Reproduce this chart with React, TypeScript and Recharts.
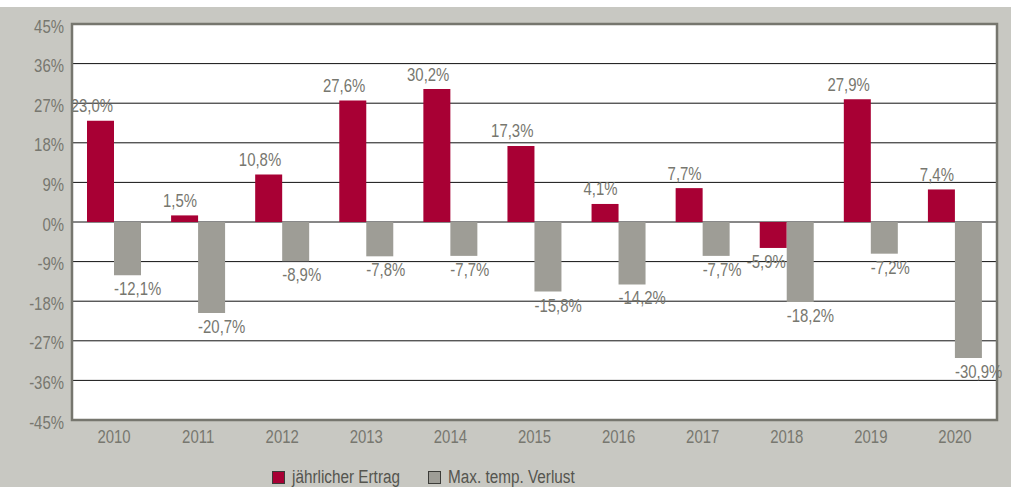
import React from 'react';
import { BarChart, Bar, XAxis, YAxis, CartesianGrid, ReferenceArea, LabelList, Legend } from 'recharts';

const years = ['2010', '2011', '2012', '2013', '2014', '2015', '2016', '2017', '2018', '2019', '2020'];
const ertrag = [23.0, 1.5, 10.8, 27.6, 30.2, 17.3, 4.1, 7.7, -5.9, 27.9, 7.4];
const verlust = [-12.1, -20.7, -8.9, -7.8, -7.7, -15.8, -14.2, -7.7, -18.2, -7.2, -30.9];
const yTicks = [-45, -36, -27, -18, -9, 0, 9, 18, 27, 36, 45];
const seriesNames = ['jährlicher Ertrag', 'Max. temp. Verlust'];

const data = years.map((y, i) => ({ year: y, ertrag: ertrag[i], verlust: verlust[i] }));

const FONT = '"Liberation Sans", Arial, sans-serif';
const RED = '#a80034';
const GRAY = '#9e9d96';
const TXT = '#77776f';
const BG = '#c8c8c2';
const BORDER = '#76766e';
const SX = 0.83;

const fmt = (v: number) => v.toFixed(1).replace('.', ',') + '%';

const NText = ({ x, y, anchor, children }: any) => (
  <text transform={`translate(${x},${y}) scale(${SX},1)`} textAnchor={anchor} fill={TXT} fontSize={18} fontFamily={FONT}>
    {children}
  </text>
);

const makeLabel = (side: 'left' | 'right') => (props: any) => {
  const { x, y, width, height, value } = props;
  const top = Math.min(y, y + height);
  const bottom = Math.max(y, y + height);
  const ty = value >= 0 ? top - 8.5 : bottom + 20;
  const tx = side === 'left' ? x + width - 1 : x;
  return <NText x={tx} y={ty} anchor={side === 'left' ? 'end' : 'start'}>{fmt(value)}</NText>;
};

const YTick = (props: any) => {
  const { y, payload } = props;
  return <NText x={64} y={y + 8.5} anchor="end">{payload.value + '%'}</NText>;
};

const XTick = (props: any) => {
  const { x, payload } = props;
  return <NText x={x} y={436} anchor="middle">{payload.value}</NText>;
};

const legendSquareX = [272, 428];
const legendTextX = [292, 448];

const LegendContent = () => (
  <div style={{ position: 'relative', height: 20, fontFamily: FONT, fontSize: 18, color: '#55554f', lineHeight: '20px' }}>
    {seriesNames.map((n, i) => (
      <React.Fragment key={n}>
        <span style={{ position: 'absolute', left: legendSquareX[i], top: 4, width: 11, height: 11, background: i === 0 ? RED : GRAY, border: '1px solid #3c3c38' }} />
        <span style={{ position: 'absolute', left: legendTextX[i], top: 0, whiteSpace: 'nowrap', transform: `scaleX(0.85)`, transformOrigin: 'left center' }}>{n}</span>
      </React.Fragment>
    ))}
  </div>
);

export default function App() {
  return (
    <div style={{ position: 'absolute', left: 0, top: 0, width: 1011, height: 487, background: '#fff' }}>
      <div style={{ position: 'absolute', left: 0, top: 7, width: 1011, height: 480, background: BG }}>
        <BarChart width={1011} height={480} data={data} margin={{ top: 17, right: 14, bottom: 37, left: 0 }} barGap={0} barSize={27}>
          <CartesianGrid vertical={false} stroke="#111" strokeWidth={1} fill="#fff" />
          <XAxis dataKey="year" height={30} tickLine={false} axisLine={false} tick={<XTick />} interval={0} />
          <YAxis width={72} domain={[-45, 45]} ticks={yTicks} tickLine={false} axisLine={false} tick={<YTick />} />
          <Bar dataKey="ertrag" fill={RED} isAnimationActive={false}>
            <LabelList dataKey="ertrag" content={makeLabel('left')} />
          </Bar>
          <Bar dataKey="verlust" fill={GRAY} isAnimationActive={false}>
            <LabelList dataKey="verlust" content={makeLabel('right')} />
          </Bar>
          <ReferenceArea y1={-45} y2={45} fill="none" stroke={BORDER} strokeWidth={2.5} ifOverflow="visible" />
          <Legend layout="horizontal" verticalAlign="middle" align="center" wrapperStyle={{ left: 0, top: 460, width: 1011, height: 20 }} content={<LegendContent />} />
        </BarChart>
      </div>
    </div>
  );
}
